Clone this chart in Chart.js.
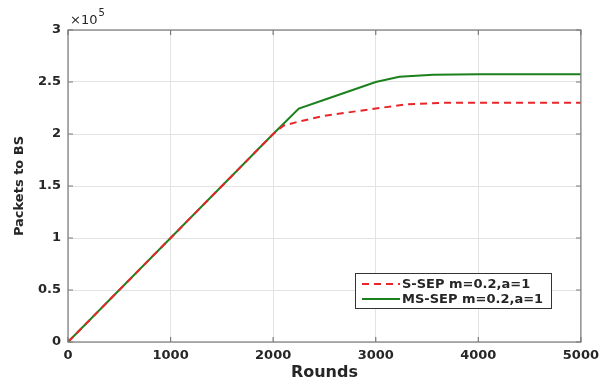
<!DOCTYPE html>
<html><head><meta charset="utf-8">
<script src="https://cdn.jsdelivr.net/npm/chart.js@4/dist/chart.umd.min.js"></script>
<style>html,body{margin:0;padding:0;background:#fff}#wrap{width:605px;height:381px}</style>
</head><body><div id="wrap"><canvas id="c" width="605" height="381"></canvas></div>
<script>
const seriesNames = ['S-SEP m=0.2,a=1', 'MS-SEP m=0.2,a=1'];
const sRounds = [0, 2000, 2100, 2250, 2500, 3000, 3300, 3650, 4000, 5000];
const sPackets = [0, 200000, 208000, 212000, 217500, 224500, 228500, 230000, 230000, 230000];
const msRounds = [0, 2000, 2250, 2500, 3000, 3230, 3560, 4000, 5000];
const msPackets = [0, 200000, 224500, 233000, 250000, 255000, 257000, 257500, 257500];
const xTicks = [0, 1000, 2000, 3000, 4000, 5000];
const yTicks = [0, 50000, 100000, 150000, 200000, 250000, 300000];
const yExponent = 5;

const toPts = (xs, ys) => xs.map((x, i) => ({x: x, y: ys[i]}));
const FONT = '"DejaVu Sans", sans-serif';
const TXT = '#262626';

const boxPlugin = {
  id: 'box',
  afterDraw(chart) {
    const ctx = chart.ctx, a = chart.chartArea;
    const xs = chart.scales.x, ys = chart.scales.y;
    ctx.save();
    ctx.strokeStyle = '#7a7a7a';
    ctx.lineWidth = 1.2;
    ctx.strokeRect(a.left, a.top, a.right - a.left, a.bottom - a.top);
    // inner ticks
    ctx.beginPath();
    xTicks.forEach(v => {
      const p = xs.getPixelForValue(v);
      ctx.moveTo(p, a.bottom); ctx.lineTo(p, a.bottom - 5);
      ctx.moveTo(p, a.top); ctx.lineTo(p, a.top + 5);
    });
    yTicks.forEach(v => {
      const p = ys.getPixelForValue(v);
      ctx.moveTo(a.left, p); ctx.lineTo(a.left + 5, p);
      ctx.moveTo(a.right, p); ctx.lineTo(a.right - 5, p);
    });
    ctx.stroke();
    // exponent label
    ctx.fillStyle = TXT;
    ctx.textBaseline = 'alphabetic';
    ctx.textAlign = 'left';
    ctx.font = '13px ' + FONT;
    const base = '\u00d710';
    ctx.fillText(base, a.left + 2, a.top - 6);
    const w = ctx.measureText(base).width;
    ctx.font = '10px ' + FONT;
    ctx.fillText(String(yExponent), a.left + 2 + w + 1, a.top - 14);
    // legend
    const lx = 355, ly = 273, lw = 196, lh = 35;
    ctx.fillStyle = '#fff';
    ctx.fillRect(lx, ly, lw, lh);
    ctx.strokeStyle = '#333';
    ctx.lineWidth = 1;
    ctx.strokeRect(lx + 0.5, ly + 0.5, lw, lh);
    ctx.font = 'bold 13px ' + FONT;
    ctx.textBaseline = 'middle';
    chart.data.datasets.forEach((ds, i) => {
      const yy = ly + 11 + i * 15;
      ctx.strokeStyle = ds.borderColor;
      ctx.lineWidth = 2;
      ctx.setLineDash(ds.borderDash || []);
      ctx.beginPath(); ctx.moveTo(lx + 7, yy); ctx.lineTo(lx + 45, yy); ctx.stroke();
      ctx.setLineDash([]);
      ctx.fillStyle = TXT;
      ctx.fillText(ds.label, lx + 47, yy + 1);
    });
    ctx.restore();
  }
};

new Chart(document.getElementById('c'), {
  type: 'line',
  data: {
    datasets: [
      { label: seriesNames[0], data: toPts(sRounds, sPackets), borderColor: 'rgb(232,38,42)', borderWidth: 2, borderDash: [7, 5], pointRadius: 0, tension: 0, fill: false },
      { label: seriesNames[1], data: toPts(msRounds, msPackets), borderColor: 'rgb(28,128,28)', borderWidth: 2, pointRadius: 0, tension: 0, fill: false }
    ]
  },
  options: {
    responsive: false,
    animation: false,
    devicePixelRatio: 1,
    layout: { padding: { left: 0, top: 30, right: 19, bottom: 0 } },
    plugins: { legend: { display: false }, tooltip: { enabled: false } },
    scales: {
      x: {
        type: 'linear', min: 0, max: 5000,
        afterBuildTicks: s => { s.ticks = xTicks.map(v => ({value: v})); },
        afterFit: s => { s.height = 39; },
        grid: { color: '#e3e3e3', drawTicks: false, lineWidth: 1 },
        border: { display: false },
        ticks: { color: TXT, font: { family: FONT, size: 13, weight: 'bold' }, padding: 6, maxRotation: 0, callback: v => String(v) },
        title: { display: true, text: 'Rounds', color: TXT, font: { family: FONT, size: 16, weight: 'bold', lineHeight: 1.0 }, padding: { top: 0, bottom: 0 } }
      },
      y: {
        type: 'linear', min: 0, max: 300000,
        afterBuildTicks: s => { s.ticks = yTicks.map(v => ({value: v})); },
        afterFit: s => { s.width = 68; },
        grid: { color: '#e3e3e3', drawTicks: false, lineWidth: 1 },
        border: { display: false },
        ticks: { color: TXT, font: { family: FONT, size: 13, weight: 'bold' }, padding: 7, callback: v => String(v / Math.pow(10, yExponent)) },
        title: { display: true, text: 'Packets to BS', color: TXT, font: { family: FONT, size: 13, weight: 'bold' }, padding: { top: 12, bottom: 0 } }
      }
    }
  },
  plugins: [boxPlugin]
});
</script></body></html>
